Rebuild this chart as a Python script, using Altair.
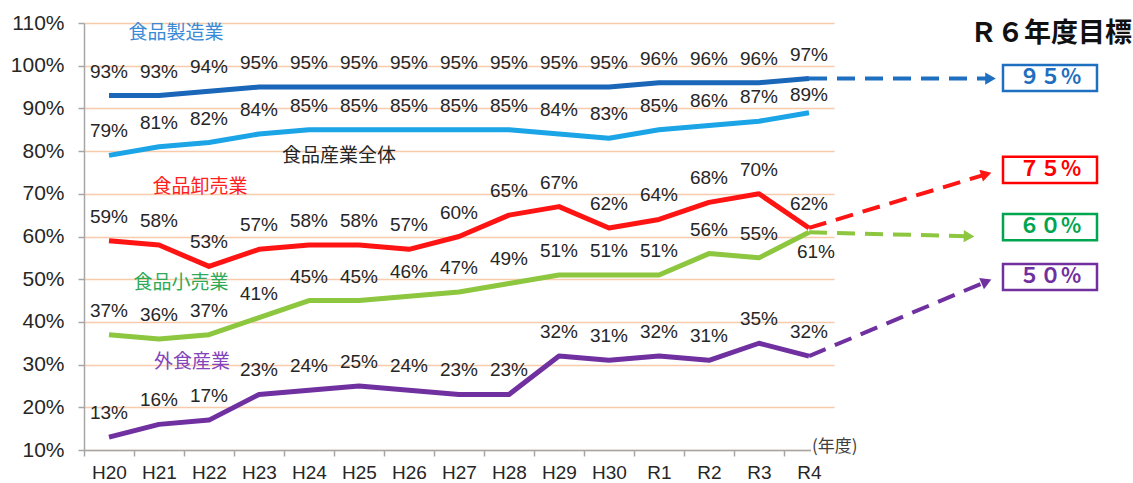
import json
import math
import altair as alt
import pandas as pd

# ---------------- data ----------------
years = ["H20", "H21", "H22", "H23", "H24", "H25", "H26", "H27", "H28",
         "H29", "H30", "R1", "R2", "R3", "R4"]
series_names = ["食品製造業", "食品産業全体", "食品卸売業", "食品小売業", "外食産業"]
manufacturing = [93, 93, 94, 95, 95, 95, 95, 95, 95, 95, 95, 96, 96, 96, 97]
industry_total = [79, 81, 82, 84, 85, 85, 85, 85, 85, 84, 83, 85, 86, 87, 89]
wholesale = [59, 58, 53, 57, 58, 58, 57, 60, 65, 67, 62, 64, 68, 70, 62]
retail = [37, 36, 37, 41, 45, 45, 46, 47, 49, 51, 51, 51, 56, 55, 61]
food_service = [13, 16, 17, 23, 24, 25, 24, 23, 23, 32, 31, 32, 31, 35, 32]
series_values = [manufacturing, industry_total, wholesale, retail, food_service]

target_title = "Ｒ６年度目標"
target_series = ["食品製造業", "食品卸売業", "食品小売業", "外食産業"]
target_values = [95, 75, 60, 50]
target_labels = ["９５%", "７５%", "６０%", "５０%"]
y_ticks = [10, 20, 30, 40, 50, 60, 70, 80, 90, 100, 110]
unit_label = "(年度)"

# ---------------- styles / layout ----------------
line_colors = ["#1A66B8", "#1BA4E6", "#FF1414", "#8DC63F", "#7030A0"]
name_colors = ["#3A8AD6", "#262626", "#FF2020", "#2EAA57", "#8444BC"]
arrow_colors = ["#1F6FC0", "#FF1414", "#8DC63F", "#7030A0"]
box_colors = ["#1F6FC0", "#FF0000", "#00A550", "#7030A0"]

# value-label placement exceptions: (series, year index) -> placement
label_place = {("食品小売業", 14): "below", ("食品産業全体", 14): "near"}

# series-name label anchor (x index, y value)
name_pos = [(1.34, 107.6), (4.6, 78.9), (1.82, 71.6), (1.44, 49.1), (1.66, 30.6)]
# arrow tips and boxes
arrow_tip = [(17.75, 97.0), (17.66, 75.0), (17.32, 60.0), (17.66, 50.0)]
box_center_y = [97.1, 75.6, 62.2, 50.5]
box_x = (17.88, 19.76)
box_half_h = 3.05
box_text_x = 18.82
title_pos = (18.84, 107.4)
unit_pos = (14.06, 10.7)

W, H = 750, 427
PX_X = W / 15.0
PX_Y = H / 100.0
FONT = "Liberation Sans, Arial, sans-serif"
JFONT = "Noto Sans CJK JP, sans-serif"

# ---------------- tables ----------------
rows = []
for name, vals, col in zip(series_names, series_values, line_colors):
    for i, v in enumerate(vals):
        rows.append({"series": name, "x": i, "y": v, "color": col,
                     "label": f"{v}%", "place": label_place.get((name, i), "above")})
df = pd.DataFrame(rows)

names_df = pd.DataFrame({
    "name": series_names,
    "x": [p[0] for p in name_pos],
    "y": [p[1] for p in name_pos],
    "color": name_colors,
})

arrow_rows, head_rows = [], []
last = {n: v[-1] for n, v in zip(series_names, series_values)}
for name, tip, col in zip(target_series, arrow_tip, arrow_colors):
    sx, sy = len(years) - 1, last[name]
    tx, ty = tip
    dxp = (tx - sx) * PX_X
    dyp = -(ty - sy) * PX_Y
    L = math.hypot(dxp, dyp)
    ux, uy = dxp / L, dyp / L
    ang = math.degrees(math.atan2(dyp, dxp)) % 360
    hx = tx - 6 * ux / PX_X
    hy = ty - 6 * uy / PX_Y * -1
    hy = ty + 6 * uy / PX_Y
    ex = tx - 9 * ux / PX_X
    ey = ty + 9 * uy / PX_Y
    arrow_rows += [{"series": name, "o": 0, "x": sx, "y": sy, "color": col},
                   {"series": name, "o": 1, "x": ex, "y": ey, "color": col}]
    head_rows.append({"series": name, "x": hx, "y": hy, "angle": ang, "color": col})
arrows_df = pd.DataFrame(arrow_rows)
heads_df = pd.DataFrame(head_rows)

boxes_df = pd.DataFrame({
    "series": target_series,
    "x": [box_x[0]] * 4, "x2": [box_x[1]] * 4,
    "y": [c - box_half_h for c in box_center_y],
    "y2": [c + box_half_h for c in box_center_y],
    "yc": box_center_y,
    "xc": [box_text_x] * 4,
    "label": target_labels,
    "color": box_colors,
})

title_df = pd.DataFrame({"t": [target_title], "x": [title_pos[0]], "y": [title_pos[1]]})
unit_df = pd.DataFrame({"t": [unit_label], "x": [unit_pos[0]], "y": [unit_pos[1]],
                        "x2": [unit_pos[0] - 0.02], "x3": [14.8],
                        "ylo": [8.3], "yhi": [11.8]})

# ---------------- scales / axes ----------------
xscale = alt.Scale(domain=[-0.5, len(years) - 0.5], nice=False, zero=False)
yscale = alt.Scale(domain=[10, 110], nice=False, zero=False)

x_axis = alt.Axis(
    values=list(range(len(years))),
    labelExpr=f"{json.dumps(years)}[round(datum.value)]",
    tickOffset=-PX_X / 2, labelOffset=PX_X / 2,
    labelAlign="center", labelFlush=False, labelOverlap=False,
    labelFontSize=19, labelFont=FONT, labelColor="#262626", labelPadding=7,
    tickSize=6, tickColor="#A6A6A6", tickWidth=1.5,
    domainColor="#A6A6A6", domainWidth=1.5, grid=False, title=None, zindex=0,
)
y_axis = alt.Axis(
    values=y_ticks, labelExpr="datum.value + '%'",
    labelFontSize=21, labelFont=FONT, labelColor="#262626", labelPadding=14,
    tickSize=6, tickColor="#A6A6A6", tickWidth=1.5,
    domainColor="#A6A6A6", domainWidth=1.5,
    grid=True, gridColor="#F8CBAD", gridWidth=1.5, title=None, zindex=0,
)

X = lambda f="x": alt.X(f"{f}:Q", scale=xscale, axis=x_axis)
Y = lambda f="y": alt.Y(f"{f}:Q", scale=yscale, axis=y_axis)

lines = alt.Chart(df).mark_line(strokeWidth=5, strokeJoin="round").encode(
    x=X(), y=Y(),
    color=alt.Color("color:N", scale=None),
    detail="series:N",
)

def value_labels(place, dy, dx=0):
    return alt.Chart(df).transform_filter(f"datum.place == '{place}'").mark_text(
        dy=dy, dx=dx, fontSize=19, font=FONT, color="#262626"
    ).encode(x=X(), y=Y(), text="label:N")

labels_above = value_labels("above", -24)
labels_near = value_labels("near", -18)
labels_below = value_labels("below", 20, 7)

names = alt.Chart(names_df).mark_text(fontSize=19, font=JFONT).encode(
    x=X(), y=Y(), text="name:N", color=alt.Color("color:N", scale=None)
)

arrows = alt.Chart(arrows_df).mark_line(strokeWidth=4, strokeDash=[18, 10]).encode(
    x=X(), y=Y(), order="o:Q", detail="series:N",
    color=alt.Color("color:N", scale=None),
)
heads = alt.Chart(heads_df).mark_point(shape="triangle-right", filled=True, size=150, opacity=1).encode(
    x=X(), y=Y(), angle=alt.Angle("angle:Q", scale=None),
    color=alt.Color("color:N", scale=None),
)

boxes = alt.Chart(boxes_df).mark_rect(fill="white", strokeWidth=2.5).encode(
    x=X(), x2="x2:Q", y=Y(), y2="y2:Q", stroke=alt.Stroke("color:N", scale=None)
)
box_text = alt.Chart(boxes_df).mark_text(fontSize=21, font=JFONT, fontWeight="bold").encode(
    x=X("xc"), y=Y("yc"), text="label:N", color=alt.Color("color:N", scale=None)
)

title = alt.Chart(title_df).mark_text(fontSize=27, font=JFONT, fontWeight="bold", color="#111111").encode(
    x=X(), y=Y(), text="t:N"
)

unit_bg = alt.Chart(unit_df).mark_rect(fill="white").encode(
    x=X("x2"), x2="x3:Q", y=Y("ylo"), y2="yhi:Q"
)
unit_text = alt.Chart(unit_df).mark_text(fontSize=17, font=JFONT, align="left", color="#404040").encode(
    x=X(), y=Y(), text="t:N"
)

chart = alt.layer(
    lines, unit_bg, unit_text, labels_above, labels_near, labels_below, names,
    arrows, heads, boxes, box_text, title,
).properties(
    width=W, height=H,
    autosize=alt.AutoSizeParams(type="none"),
    padding={"left": 84, "top": 23, "right": 299, "bottom": 33},
    background="white",
).configure_view(stroke=None)

chart.save("out.html", embed_options={"renderer": "svg", "actions": False})
